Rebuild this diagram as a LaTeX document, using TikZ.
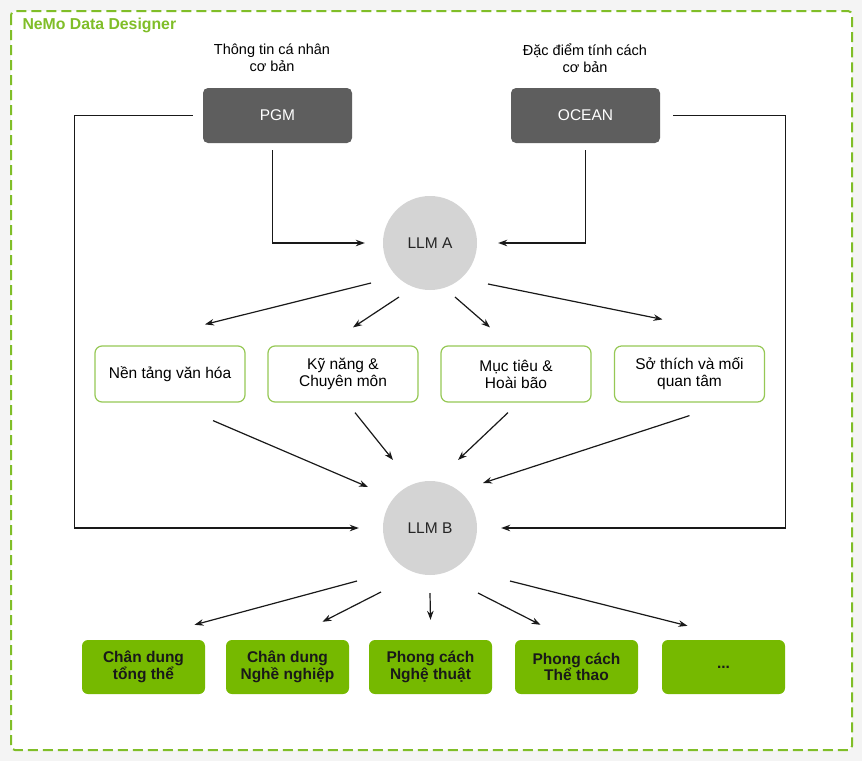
\documentclass[tikz,border=0pt]{standalone}
\usepackage{fontspec}
\setmainfont{Liberation Sans}
\usetikzlibrary{positioning,calc,arrows.meta}
\tikzset{>={Stealth[length=9pt,width=6.5pt]}}
\definecolor{nvgreen}{RGB}{118,185,0}
\definecolor{framegreen}{RGB}{128,190,40}
\definecolor{softgreen}{RGB}{150,200,85}
\definecolor{darkbox}{RGB}{94,94,94}
\definecolor{llmgray}{RGB}{212,212,212}
\definecolor{pagegray}{RGB}{244,244,244}
\tikzset{
  basefont/.style={font=\fontsize{15.5}{17}\selectfont},
  srcbox/.style={basefont,fill=darkbox,text=white,rounded corners=5pt,minimum width=149pt,minimum height=55pt},
  llm/.style={basefont,circle,fill=llmgray,text=black!85,minimum size=94pt,inner sep=0pt},
  traitbox/.style={basefont,draw=softgreen,line width=1.2pt,fill=white,rounded corners=7pt,minimum width=150pt,minimum height=56pt,align=center},
  outbox/.style={font=\bfseries\fontsize{15.5}{16.5}\selectfont,fill=nvgreen,text=black!90,rounded corners=6pt,minimum width=123pt,minimum height=54pt,align=center},
  caption/.style={font=\fontsize{14.5}{17}\selectfont,align=center},
  link/.style={->,line width=1.2pt,black!90}
}
\begin{document}
\begin{tikzpicture}[x=1pt,y=-1pt]
\useasboundingbox (0,0) rectangle (862,761);
\fill[pagegray] (0,0) rectangle (862,761);
\draw[framegreen,fill=white,line width=2pt,dash pattern=on 10pt off 5pt,rounded corners=4pt] (11,11) rectangle (852,750);
\node[anchor=west,font=\bfseries\fontsize{15.8}{17}\selectfont,text=framegreen] (title) at (19,25) {NeMo Data Designer};

\node[caption] (capA) at (272,58) {Thông tin cá nhân\\cơ bản};
\node[caption] (capB) at (585,58) {Đặc điểm tính cách\\cơ bản};
\node[srcbox] (pgm) at (277.5,115.5) {PGM};
\node[srcbox] (ocean) at (585.5,115.5) {OCEAN};

\node[llm] (llmA) at (430,243) {LLM A};
\node[llm] (llmB) at (430,528) {LLM B};

\node[traitbox] (cult) at (170,374) {Nền tảng văn hóa};
\node[traitbox] (skill) at (343,374) {Kỹ năng \&\\Chuyên môn};
\node[traitbox] (goal) at (516,374) {Mục tiêu \&\\Hoài bão};
\node[traitbox] (hobby) at (689.5,374) {Sở thích và mối\\quan tâm};

\node[outbox] (whole) at (143.5,667) {Chân dung\\tổng thể};
\node[outbox] (career) at (287.5,667) {Chân dung\\Nghề nghiệp};
\node[outbox] (art) at (430.5,667) {Phong cách\\Nghệ thuật};
\node[outbox] (sport) at (576.5,667) {Phong cách\\Thể thao};
\node[outbox] (more) at (723.5,667) {...};

\draw[link,shorten >=18pt] ($(pgm.south)+(-5,7)$) |- (llmA.west);
\draw[link,shorten >=21pt] ($(ocean.south)+(0,7)$) |- (llmA.east);
\draw[link,shorten <=10pt,shorten >=24pt] (pgm.west) -- ++(-128,0) |- (llmB.west);
\draw[link,shorten <=13pt,shorten >=24pt] (ocean.east) -- ++(125,0) |- (llmB.east);

\draw[link] ($(llmA)+(-59,40)$) -- ($(cult.north)+(35,-21)$);
\draw[link] ($(llmA)+(-31,54)$) -- ($(skill.north)+(10,-18)$);
\draw[link] ($(llmA)+(25,54)$) -- ($(goal.north)+(-26,-18)$);
\draw[link] ($(llmA)+(58,41)$) -- ($(hobby.north)+(-27,-26)$);

\draw[link] ($(cult.south)+(43,18)$) -- ($(llmB)+(-62,-41)$);
\draw[link] ($(skill.south)+(12,10)$) -- ($(llmB)+(-37,-68)$);
\draw[link] ($(goal.south)+(-8,10)$) -- ($(llmB)+(28,-68)$);
\draw[link] ($(hobby.south)+(0,13)$) -- ($(llmB)+(53,-45)$);

\draw[link] ($(llmB)+(-73,53)$) -- ($(whole.north)+(51,-15)$);
\draw[link] ($(llmB)+(-49,64)$) -- ($(career.north)+(35,-18)$);
\draw[link] ($(llmB)+(0,65)$) -- ($(art.north)+(0,-20)$);
\draw[link] ($(llmB)+(48,65)$) -- ($(sport.north)+(-36,-15)$);
\draw[link] ($(llmB)+(80,53)$) -- ($(more.north)+(-36,-14)$);
\end{tikzpicture}
\end{document}
